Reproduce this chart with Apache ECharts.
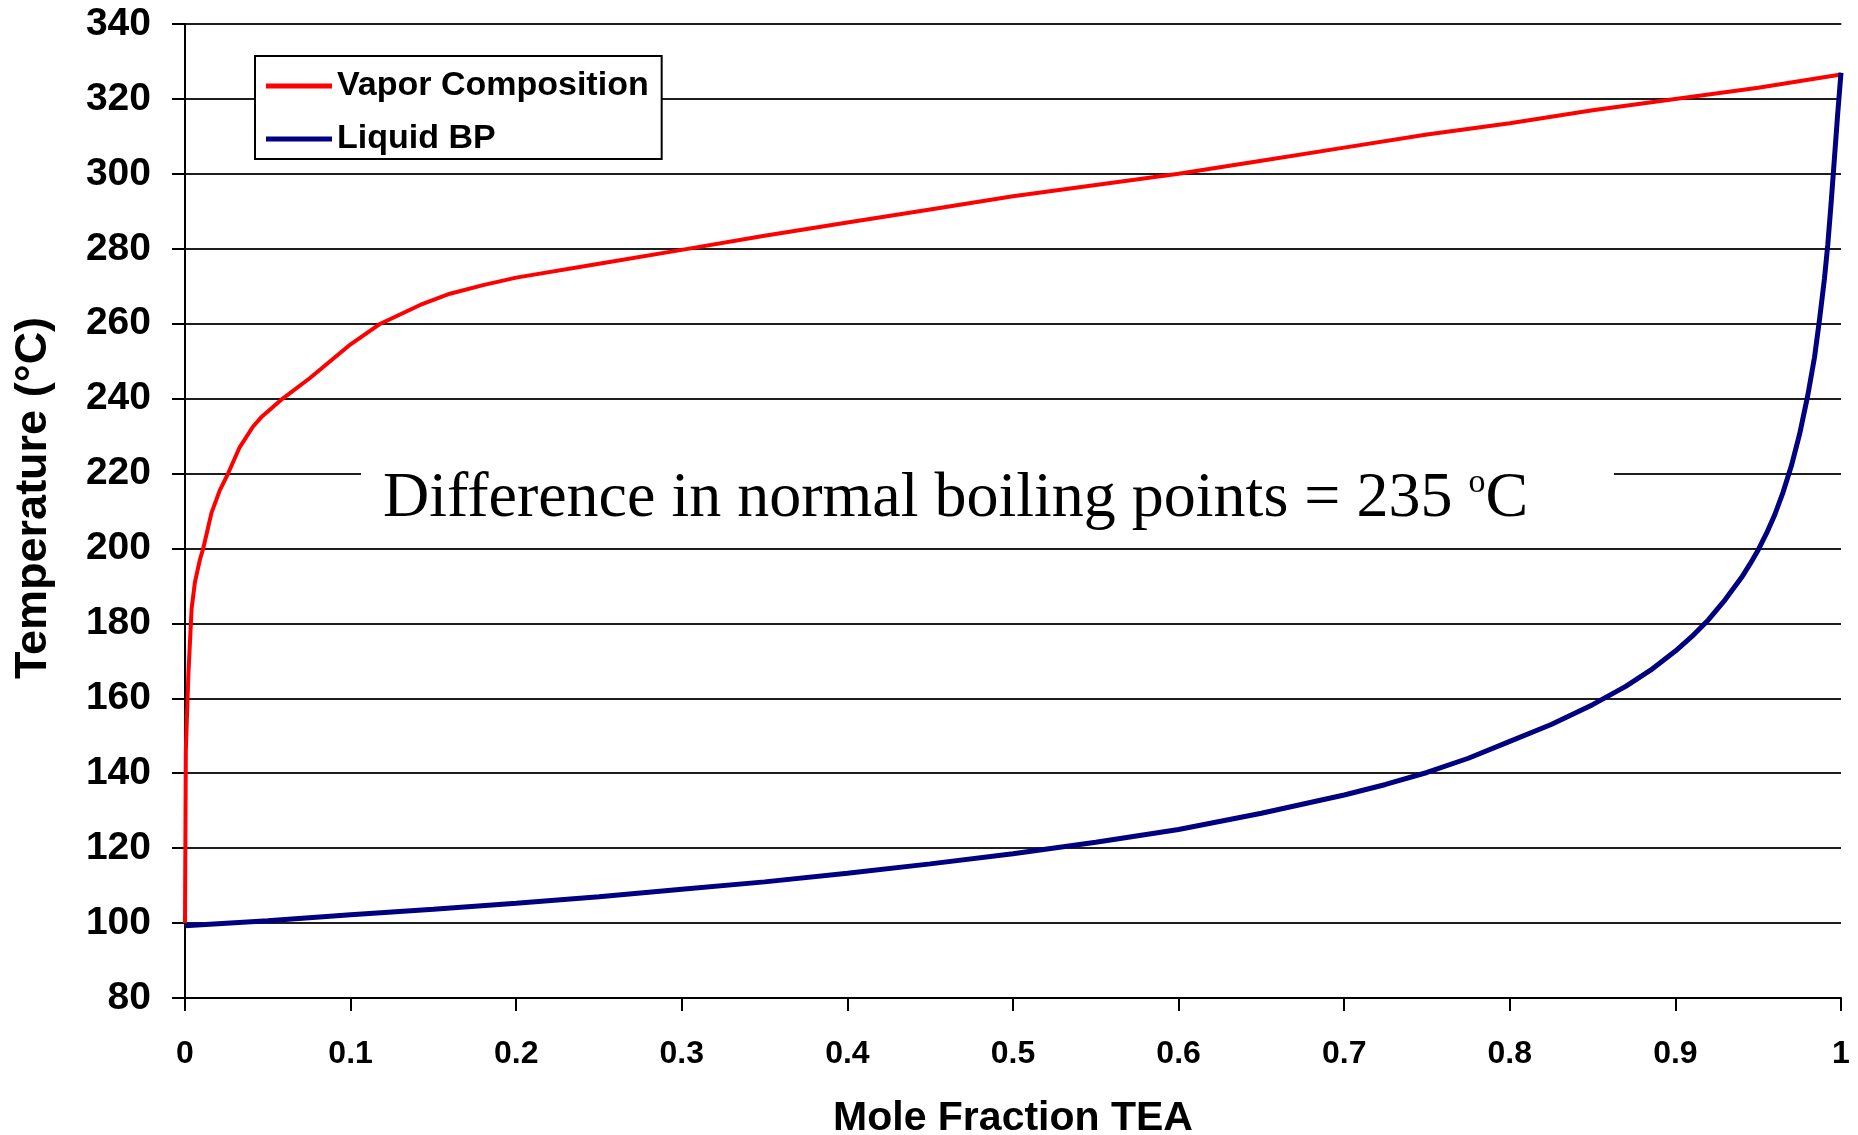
<!DOCTYPE html>
<html>
<head>
<meta charset="utf-8">
<script src="https://cdn.jsdelivr.net/npm/echarts@6/dist/echarts.min.js"></script>
<style>
  html, body { margin: 0; padding: 0; background: #fff; }
  #chart { width: 1858px; height: 1135px; }
</style>
</head>
<body>
<div id="chart"></div>
<script>
// Vapor composition curve (dew line): mole fraction TEA vs temperature, °C
const vaporX = [0, 0.0005, 0.002, 0.003, 0.004, 0.006, 0.009, 0.011, 0.016, 0.021, 0.026, 0.033, 0.041, 0.046,
                0.059, 0.0755, 0.1, 0.118, 0.142, 0.16, 0.18, 0.2, 0.25, 0.3, 0.35, 0.4, 0.45, 0.5, 0.55,
                0.6, 0.65, 0.7, 0.75, 0.8, 0.85, 0.9, 0.95, 1.0];
const vaporT = [100, 146, 166, 175, 184, 191, 197, 200, 209.5, 215.5, 220, 227, 232.5, 235,
                240, 245.5, 254.5, 260, 265, 268, 270.3, 272.3, 276, 279.7, 283.5, 287, 290.5, 294, 297,
                300, 303.5, 307, 310.5, 313.5, 317, 320, 323, 326.5];

// Liquid boiling point curve (bubble line)
const liquidX = [0, 0.05, 0.1, 0.15, 0.2, 0.25, 0.3, 0.35, 0.4, 0.45, 0.5, 0.55, 0.6, 0.65, 0.7, 0.725, 0.75,
                 0.775, 0.8, 0.825, 0.85, 0.87, 0.885, 0.9, 0.91, 0.92, 0.93, 0.94, 0.945, 0.95, 0.955, 0.96,
                 0.965, 0.97, 0.975, 0.98, 0.984, 0.987, 0.99, 0.992, 0.994, 0.996, 0.998, 1.0];
const liquidT = [99.3, 100.6, 102.2, 103.7, 105.3, 107, 109, 111, 113.3, 115.8, 118.5, 121.6, 125, 129.3, 134.2, 137, 140.2,
                 144, 148.5, 153, 158.3, 163.2, 167.5, 172.6, 176.5, 181, 186.3, 192.3, 195.8, 199.6, 204, 209,
                 215, 222, 230.5, 241, 251, 261, 272, 281, 292, 304, 316, 327];

const seriesNames = ['Vapor Composition', 'Liquid BP'];
const xTitle = 'Mole Fraction TEA';
const yTitle = 'Temperature (°C)';
const noteMain = 'Difference in normal boiling points = 235 ';
const noteSup = 'o';
const noteUnit = 'C';

const xRange = { min: 0, max: 1, step: 0.1 };
const yRange = { min: 80, max: 340, step: 20 };

const pairs = (xs, ys) => xs.map((x, i) => [x, ys[i]]);

const SANS = '"Liberation Sans", Arial, Helvetica, sans-serif';
const SERIF = '"Liberation Serif", "Times New Roman", serif';

const chart = echarts.init(document.getElementById('chart'), null, { renderer: 'canvas' });

// Light grey frame on the top and right edges of the plot area
const frameAxis = {
  axisLabel: { show: false },
  axisTick: { show: false },
  splitLine: { show: false },
  axisLine: { show: true, lineStyle: { color: '#a6a6a6', width: 2 } },
  z: 1
};

chart.setOption({
  backgroundColor: '#ffffff',
  animation: false,
  grid: { left: 185, right: 17, top: 24, bottom: 137, containLabel: false, outerBoundsMode: 'none' },
  legend: {
    left: 255,
    top: 56,
    orient: 'vertical',
    icon: 'rect',
    itemWidth: 66,
    itemHeight: 5,
    itemGap: 13,
    itemTextGap: 7,
    padding: [10, 13, 0, 11],
    borderColor: '#000',
    borderWidth: 2,
    backgroundColor: '#fff',
    textStyle: { fontFamily: SANS, fontSize: 34, fontWeight: 'bold', color: '#000', lineHeight: 40 },
    data: seriesNames
  },
  xAxis: [
    {
      type: 'value',
      min: xRange.min,
      max: xRange.max,
      interval: xRange.step,
      axisLine: { show: true, onZero: false, lineStyle: { color: '#000', width: 2 } },
      axisTick: { show: true, length: 13, lineStyle: { color: '#000', width: 2 } },
      axisLabel: {
        margin: 40,
        fontFamily: SANS, fontSize: 32, fontWeight: 'bold', color: '#000',
        formatter: v => String(Math.round(v * 10) / 10)
      },
      splitLine: { show: false },
      z: 2
    },
    Object.assign({ type: 'value', position: 'top', min: xRange.min, max: xRange.max }, frameAxis)
  ],
  yAxis: [
    {
      type: 'value',
      min: yRange.min,
      max: yRange.max,
      interval: yRange.step,
      axisLine: { show: true, onZero: false, lineStyle: { color: '#000', width: 2 } },
      axisTick: { show: true, length: 13, lineStyle: { color: '#000', width: 2 } },
      axisLabel: { margin: 34, fontFamily: SANS, fontSize: 39, fontWeight: 'bold', color: '#000' },
      splitLine: { show: true, lineStyle: { color: '#1e1e1e', width: 2 } },
      z: 2
    },
    Object.assign({ type: 'value', position: 'right', min: yRange.min, max: yRange.max }, frameAxis)
  ],
  graphic: [
    {
      type: 'text',
      x: 1013, y: 1119,
      z: 10,
      style: { text: xTitle, fontFamily: SANS, fontSize: 41, fontWeight: 'bold', fill: '#000',
               align: 'center', verticalAlign: 'middle' }
    },
    {
      type: 'text',
      x: 34, y: 498,
      rotation: Math.PI / 2,
      z: 10,
      style: { text: yTitle, fontFamily: SANS, fontSize: 45, fontWeight: 'bold', fill: '#000',
               align: 'center', verticalAlign: 'middle' }
    },
    {
      type: 'rect',
      z: 5,
      shape: { x: 361, y: 452, width: 1253, height: 90 },
      style: { fill: '#fff' }
    },
    {
      type: 'text',
      x: 383, y: 499,
      z: 6,
      style: {
        text: '{m|' + noteMain + '}{s|' + noteSup + '}{m|' + noteUnit + '}',
        align: 'left',
        verticalAlign: 'middle',
        rich: {
          m: { fontFamily: SERIF, fontSize: 64, fill: '#000', lineHeight: 70 },
          s: { fontFamily: SERIF, fontSize: 34, fill: '#000', lineHeight: 70, verticalAlign: 'top', padding: [2, 0, 0, 0] }
        }
      }
    }
  ],
  series: [
    {
      name: seriesNames[0],
      type: 'line',
      data: pairs(vaporX, vaporT),
      showSymbol: false,
      symbol: 'none',
      smooth: false,
      color: '#ff0000',
      lineStyle: { color: '#ff0000', width: 4 },
      z: 3
    },
    {
      name: seriesNames[1],
      type: 'line',
      data: pairs(liquidX, liquidT),
      showSymbol: false,
      symbol: 'none',
      smooth: false,
      color: '#000080',
      lineStyle: { color: '#000080', width: 5 },
      z: 3
    }
  ]
});
</script>
</body>
</html>
